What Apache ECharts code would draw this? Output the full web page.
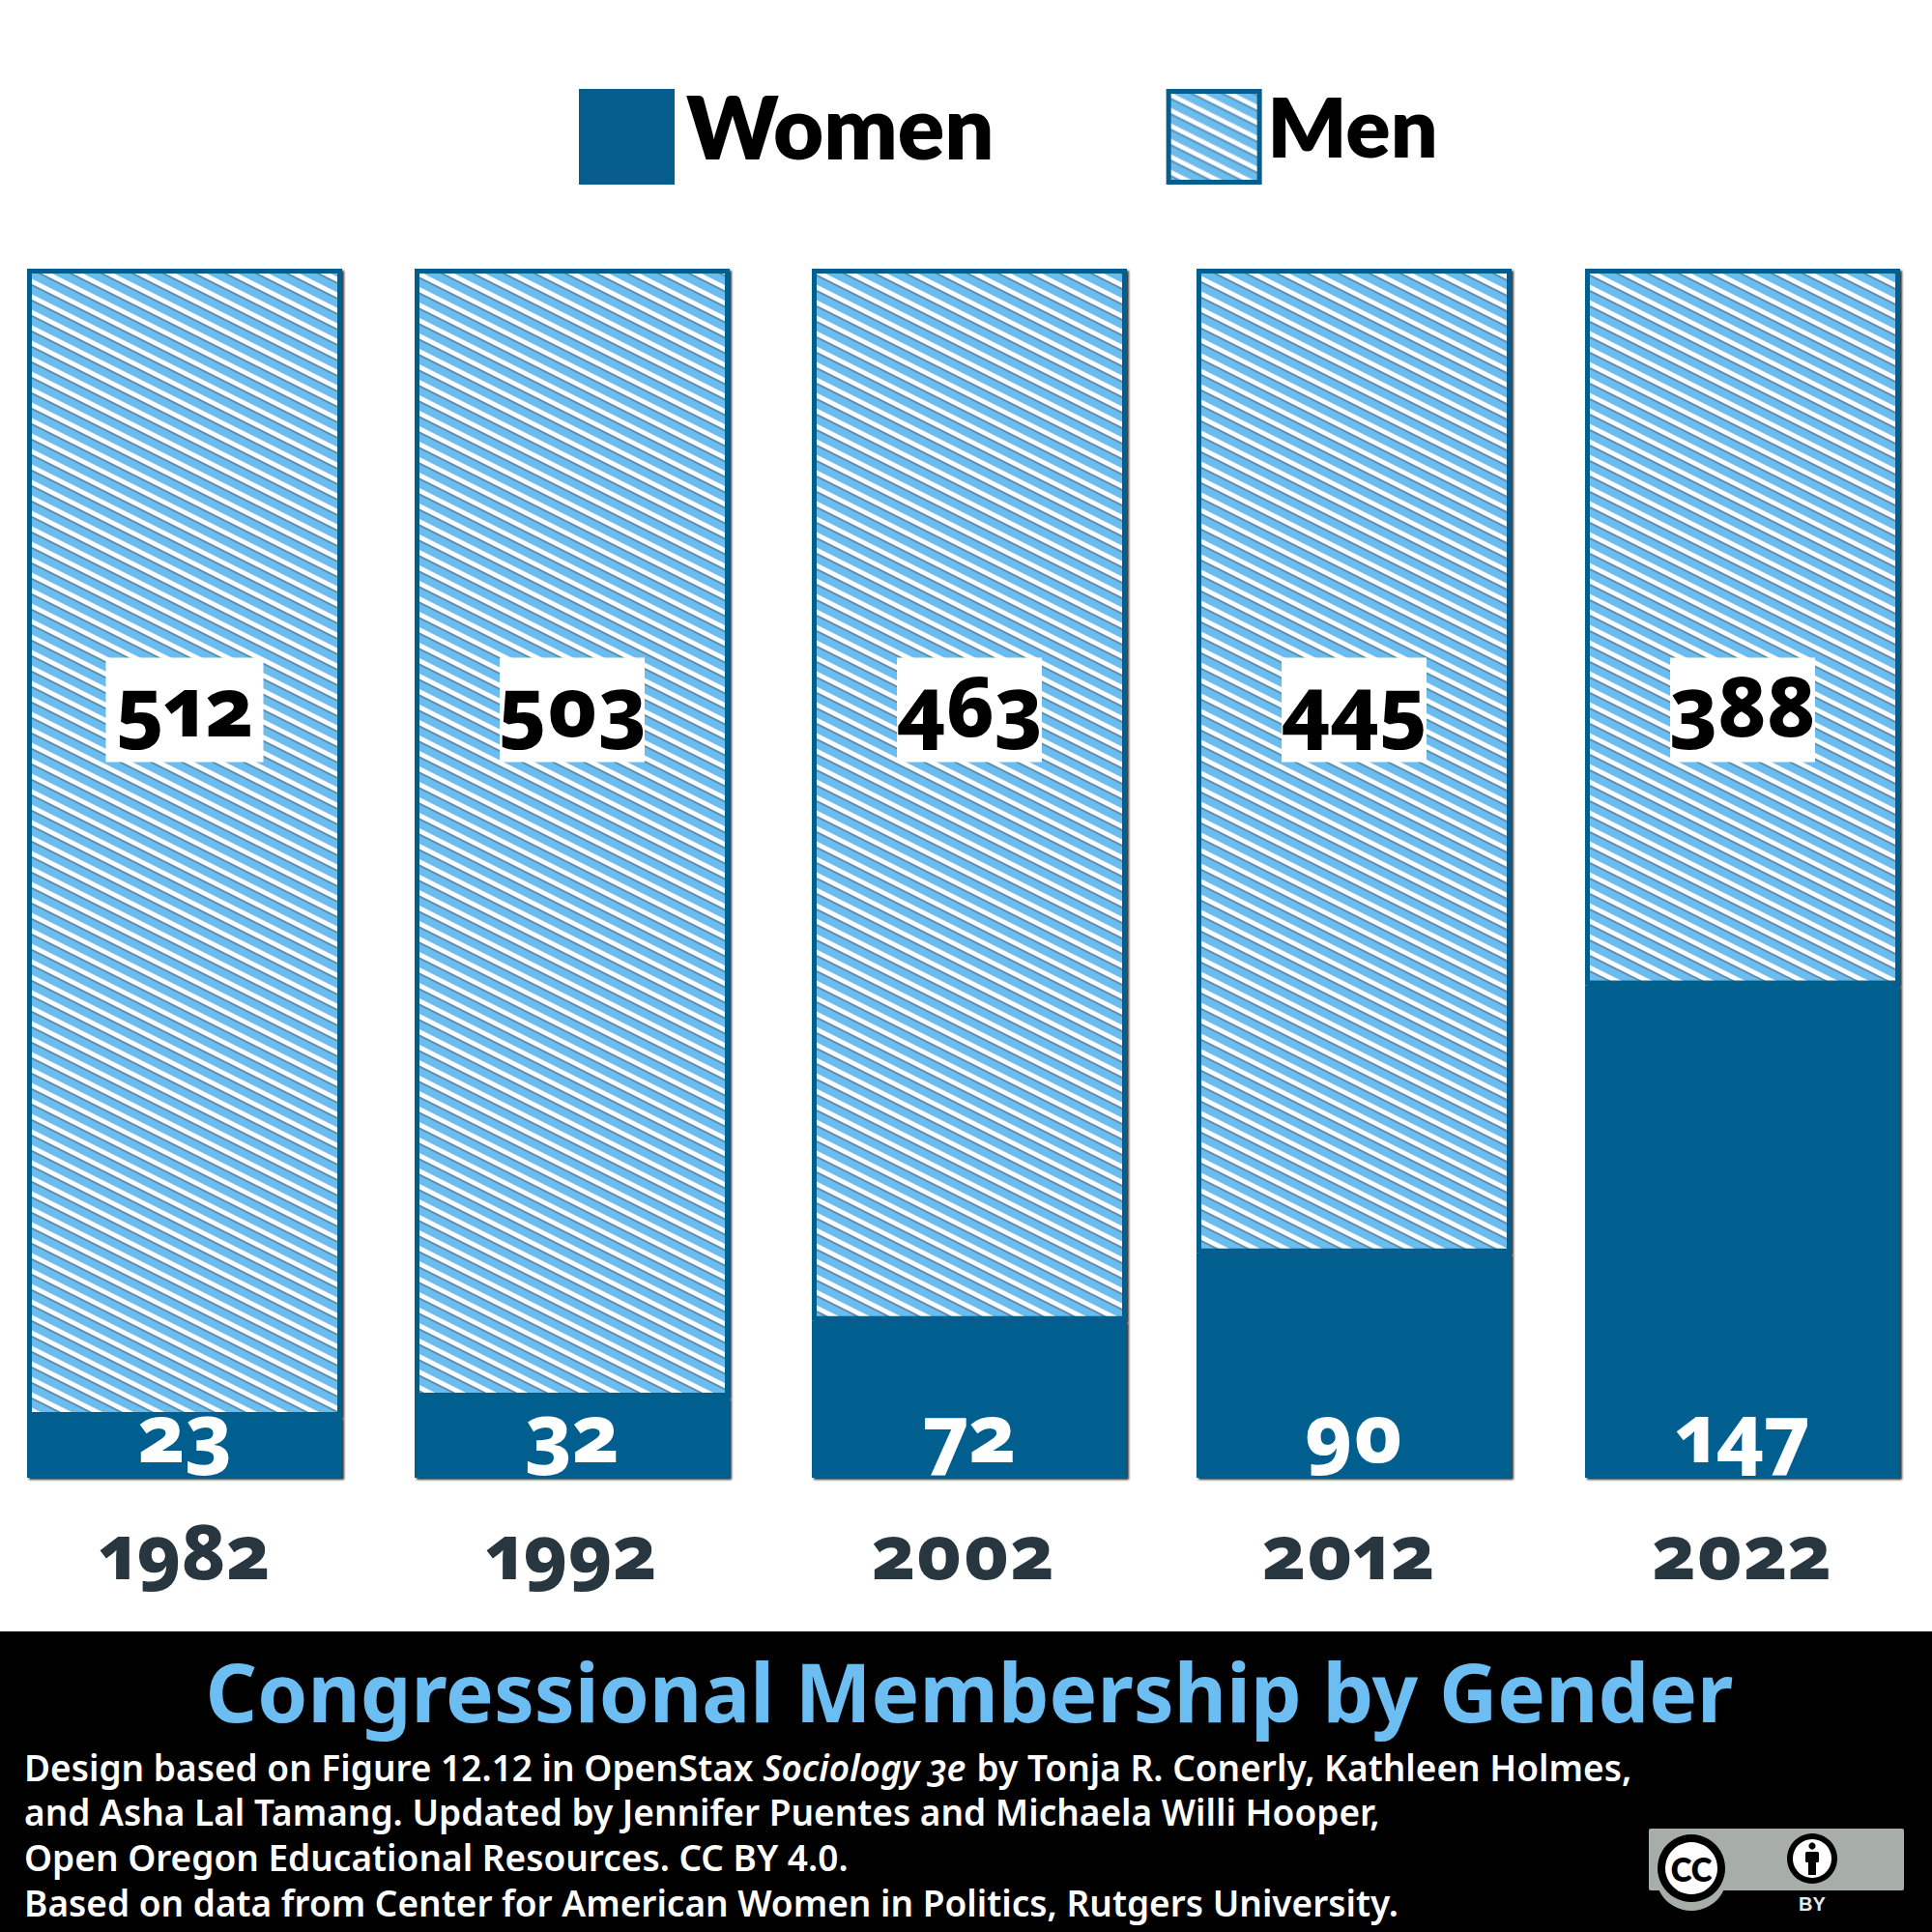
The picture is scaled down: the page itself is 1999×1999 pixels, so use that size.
<!DOCTYPE html>
<html><head><meta charset="utf-8">
<script src="https://cdn.jsdelivr.net/npm/echarts@6/dist/echarts.min.js"></script>
<style>
html,body{margin:0;padding:0;background:#fff}
#c{width:1999px;height:1999px}
#c text{font-feature-settings:"onum" 1,"lnum" 0,"pnum" 1}
</style></head><body><div id="c"></div>
<script>
const years = ['1982','1992','2002','2012','2022'];
const womenCounts = [23,32,72,90,147];
const menCounts = [512,503,463,445,388];
// Drawn heights (share of bar height); the original's bars are not to scale with its labels.
const womenHeight = [5.04,6.64,12.96,18.56,40.72];
const menHeight = [94.96,93.36,87.04,81.44,59.28];
const footerLines = [
 'Design based on Figure 12.12 in OpenStax {i|Sociology 3e} by Tonja R. Conerly, Kathleen Holmes,',
 'and Asha Lal Tamang. Updated by Jennifer Puentes and Michaela Willi Hooper,',
 'Open Oregon Educational Resources. CC BY 4.0.',
 'Based on data from Center for American Women in Politics, Rutgers University.'
];
const titleText = 'Congressional Membership by Gender';

const gridLefts = [28,429,840,1238,1640];
const gridWidth = 326, gridTop = 278, gridHeight = 1251;
const menLabelLevel = 63.5;
const menBoxWidths = [163,150,150,150,150];
const yearShift = [0,1,7,6,1];
const numFont = 'Noto Sans';
const DARK='#065e8f', LIGHT='#6cbcee';

function stripes(){
  const c=document.createElement('canvas');c.width=32;c.height=16;
  const g=c.getContext('2d');
  g.fillStyle=LIGHT;g.fillRect(0,0,32,16);
  const band=(y0,h,col)=>{g.fillStyle=col;
    for(let k=-2;k<=2;k++){const o=y0+k*16;
      g.beginPath();g.moveTo(0,o);g.lineTo(32,o+16);g.lineTo(32,o+16+h);g.lineTo(0,o+h);g.closePath();g.fill();}};
  band(0,5.5,'#ffffff');
  band(5.5,2,'#5a8fb0');
  return c;
}
const pat={image:stripes(),repeat:'repeat'};

const grids=[],xAxes=[],yAxes=[],series=[];
const shadow={shadowColor:'rgba(20,30,35,.9)',shadowBlur:2,shadowOffsetX:2,shadowOffsetY:2};
years.forEach((y,i)=>{
  grids.push({left:gridLefts[i],width:gridWidth,top:gridTop,height:gridHeight});
  xAxes.push({type:'category',gridIndex:i,data:[y],axisLine:{show:false},axisTick:{show:false},
    axisLabel:{margin:36,fontFamily:numFont,fontWeight:800,fontSize:78,color:'#27363f',padding:[0,yearShift[i]*2,0,0]}});
  yAxes.push({type:'value',gridIndex:i,min:0,max:100,show:false,splitLine:{show:false}});
  series.push({type:'bar',name:'Women',xAxisIndex:i,yAxisIndex:i,stack:'s'+i,barWidth:'100%',z:3,clip:false,
    data:[womenHeight[i]],
    itemStyle:{color:DARK,borderColor:DARK,borderWidth:0,...shadow},
    label:{show:true,position:'insideBottom',distance:7,formatter:()=>String(womenCounts[i]),
      fontFamily:numFont,fontWeight:800,fontSize:84,color:'#fff'}});
  series.push({type:'bar',name:'Men',xAxisIndex:i,yAxisIndex:i,stack:'s'+i,barWidth:'100%',z:2,clip:false,
    data:[menHeight[i]],
    itemStyle:{color:pat,borderColor:DARK,borderWidth:5,...shadow}});
  series.push({type:'scatter',name:'menLabel',xAxisIndex:i,yAxisIndex:i,symbolSize:0,z:5,silent:true,
    itemStyle:{opacity:1},
    data:[[0,menLabelLevel]],
    label:{show:true,position:'inside',offset:[0,-54],formatter:()=>String(menCounts[i]),
      fontFamily:numFont,fontWeight:800,fontSize:86,color:'#000',
      backgroundColor:'#fff',width:menBoxWidths[i],height:96,lineHeight:96,padding:[0,0,12,0],align:'center',verticalAlign:'top'}});
});

const footerBase=[1805,1851,1898,1945];
const titles=[{text:titleText,left:998,top:1702,textAlign:'center',
  textStyle:{fontFamily:'Noto Sans',fontWeight:700,fontSize:83.5,color:'#6cbdf2'}}];
footerLines.forEach((t,i)=>titles.push({text:t,left:20,top:footerBase[i],
  textStyle:{fontFamily:'Noto Sans',fontWeight:600,fontSize:37,color:'#fff',
    rich:{i:{fontFamily:'Noto Sans',fontWeight:600,fontStyle:'italic',fontSize:37,color:'#fff'}}}}));

const GREY='#a7aea8';
const graphic=[
 {type:'rect',z:-10,silent:true,shape:{x:0,y:1688,width:1999,height:311},style:{fill:'#000'}},
 {type:'rect',z:1,silent:true,shape:{x:1706,y:1892,width:264,height:64,r:2},style:{fill:GREY}},
 {type:'circle',z:1,silent:true,shape:{cx:1750,cy:1940,r:37},style:{fill:GREY}},
 {type:'circle',z:2,silent:true,shape:{cx:1750,cy:1933,r:35},style:{fill:'#000'}},
 {type:'circle',z:3,silent:true,shape:{cx:1750,cy:1933,r:27},style:{fill:'#fff'}},
 {type:'text',z:4,silent:true,style:{x:1750,y:1934,text:'CC',fill:'#000',font:'800 33px "Lato"',align:'center',verticalAlign:'middle'}},
 {type:'circle',z:2,silent:true,shape:{cx:1875,cy:1923,r:26},style:{fill:'#000'}},
 {type:'circle',z:3,silent:true,shape:{cx:1875,cy:1923,r:20},style:{fill:'#fff'}},
 {type:'circle',z:4,silent:true,shape:{cx:1875,cy:1910,r:3.6},style:{fill:'#000'}},
 {type:'rect',z:4,silent:true,shape:{x:1868,y:1916,width:14,height:11,r:1.5},style:{fill:'#000'}},
 {type:'rect',z:4,silent:true,shape:{x:1871,y:1925,width:8,height:15},style:{fill:'#000'}},
 {type:'text',z:4,silent:true,style:{x:1875,y:1970,text:'BY',fill:'#e8eae8',font:'700 20px "Liberation Sans"',align:'center',verticalAlign:'middle'}}
];

const legendFont={fontFamily:'Lato',fontWeight:800,color:'#000'};
const legendItem={borderWidth:5,borderColor:DARK,shadowBlur:0,shadowOffsetX:0,shadowOffsetY:0};
echarts.init(document.getElementById('c'),null,{renderer:'svg'}).setOption({
  animation:false,backgroundColor:'#fff',
  title:titles,grid:grids,xAxis:xAxes,yAxis:yAxes,series,graphic,
  legend:{data:[{name:'Women',itemStyle:legendItem},{name:'Men',itemStyle:legendItem}],
    left:594,top:79.5,itemWidth:94,itemHeight:94,itemGap:178,icon:'rect',
    selectedMode:false,
    formatter:n=>(n==='Women'?'{w|Women}':'{m|Men}')+'\n{b| }',
    textStyle:{...legendFont,fontSize:90,
      rich:{w:{...legendFont,fontSize:90,padding:[0,0,0,9.5]},m:{...legendFont,fontSize:86,padding:[0,0,0,3]},b:{fontSize:10,lineHeight:24}}}}
});
</script></body></html>
